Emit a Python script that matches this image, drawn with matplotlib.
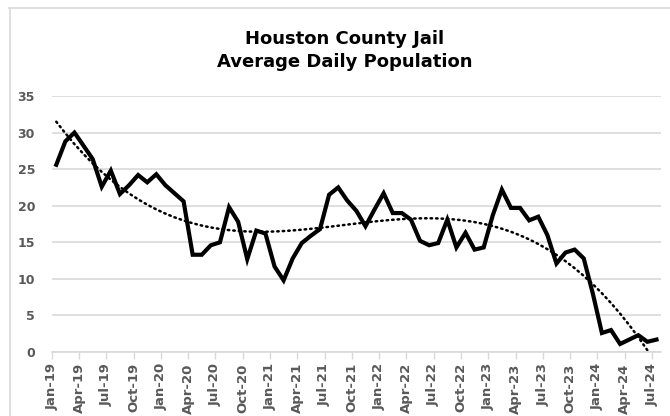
import matplotlib.pyplot as plt
import numpy as np
import pandas as pd

# monthly average daily population, Jan-19 .. Jul-24
months = pd.date_range("2019-01-01", "2024-07-01", freq="MS")
population = [25.6, 28.8, 30.0, 28.2, 26.4, 22.6, 24.8, 21.6, 22.8, 24.2, 23.2, 24.3,
              22.8, 21.7, 20.6, 13.3, 13.3, 14.6, 15.0, 19.8, 17.8, 12.7, 16.6, 16.2,
              11.7, 9.8, 12.8, 14.9, 15.9, 16.8, 21.5, 22.5, 20.7, 19.3, 17.2, 19.5,
              21.7, 19.0, 19.0, 18.1, 15.2, 14.6, 14.9, 18.1, 14.3, 16.3, 14.0, 14.3,
              18.7, 22.2, 19.7, 19.7, 18.0, 18.5, 16.0, 12.1, 13.6, 14.0, 12.8, 8.0,
              2.6, 3.0, 1.1, 1.7, 2.3, 1.4, 1.7]
tick_labels = [m.strftime("%b-%y") for m in months[::3]]

title = "Houston County Jail\nAverage Daily Population"
gray = "#595959"
grid = "#d9d9d9"

fig = plt.figure(figsize=(6.7, 4.16), dpi=100)
ax = fig.add_axes([0.0772, 0.1538, 0.9094, 0.6154])

n = len(population)
x = np.arange(n) + 0.5
ax.plot(x, population, color="black", lw=3, solid_joinstyle="miter", zorder=3)

# polynomial trendline (order 3) fitted to the series
coef = np.polyfit(x, population, 3)
ax.plot(x, np.polyval(coef, x), color="black", lw=1.8, ls=(0, (0.6, 1.6)),
        dash_capstyle="round", zorder=2)

ax.set_xlim(0, n)
ax.set_ylim(0, 35)
ax.set_yticks(np.arange(0, 36, 5))
ax.set_xticks(np.arange(0, n, 3))
ax.set_xticklabels(tick_labels, rotation=90)
ax.grid(axis="y", color=grid, lw=1.2)
ax.set_axisbelow(True)
for s in ["top", "right", "left"]:
    ax.spines[s].set_visible(False)
ax.spines["bottom"].set_color(grid)
ax.spines["bottom"].set_linewidth(1.2)
ax.tick_params(axis="x", colors=gray, length=5, width=1, pad=3, labelsize=9.5)
ax.tick_params(axis="x", color=grid)
ax.tick_params(axis="y", colors=gray, length=0, pad=12, labelsize=9)
for lbl in ax.get_xticklabels() + ax.get_yticklabels():
    lbl.set_fontweight("bold")

fig.text(0.515, 0.879, title, ha="center", va="center", fontsize=13,
         fontweight="bold", linespacing=1.4)

# chart area border
fig.add_artist(plt.Line2D([0.013, 1.0], [0.981, 0.981], color=grid, lw=1.2))
fig.add_artist(plt.Line2D([0.015, 0.015], [0.0, 0.981], color=grid, lw=1.2))

fig.savefig("out.png", dpi=100)
